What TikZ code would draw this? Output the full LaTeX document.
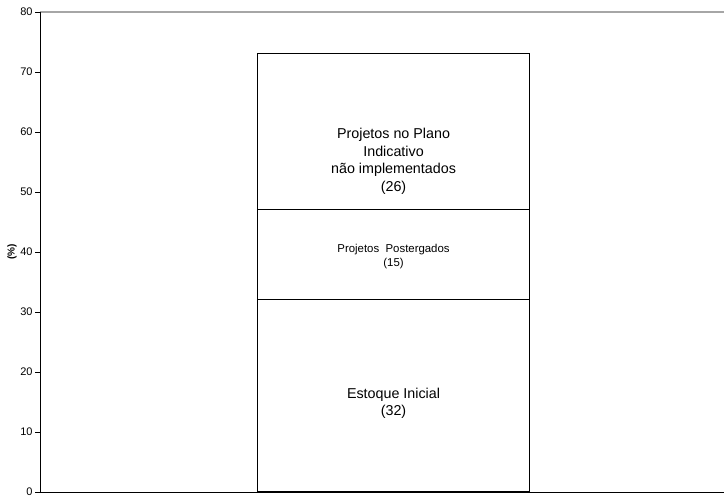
\documentclass[tikz,border=0pt]{standalone}
\usepackage{fontspec}
\setmainfont{Liberation Sans}
\usetikzlibrary{positioning}

\begin{document}
\begin{tikzpicture}[
    x=1pt, y=1pt, line width=0.9pt,
    ticklabel/.style={left=2pt, font=\fontsize{11}{12}\selectfont, inner sep=0pt},
    segment/.style={draw, line width=1.1pt, minimum width=272pt, anchor=south west, inner sep=0pt},
    seglabel/.style={align=center, font=\fontsize{14.3}{17.5}\selectfont},
    smalllabel/.style={align=center, font=\fontsize{11.4}{14}\selectfont}
]
    \useasboundingbox (-40,-5) rectangle (684,492);

    % axes
    \coordinate (origin) at (0,0);
    \coordinate (ytop) at (0,480);
    \coordinate (xend) at (684,0);
    \coordinate (topend) at (684,480);
    \draw[gray!70, line width=1.3pt] (ytop) -- (topend);
    \draw (origin) -- (xend);
    \draw (origin) -- (ytop);
    \foreach \v in {0,10,...,80} {
        \draw (0,\v*6) -- (-5,\v*6) node[ticklabel] {\v};
    }
    \node[rotate=90, font=\bfseries\fontsize{10}{12}\selectfont] (unit) at (-28,240) {(\%)};

    % stacked bar
    \node[segment, minimum height=192pt] (estoque) at (217,0) {};
    \node[segment, minimum height=90pt] (postergados) at (217,192) {};
    \node[segment, minimum height=156pt] (plano) at (217,282) {};

    \node[seglabel] (estoquetxt) at ([yshift=-8pt]estoque.center) {Estoque Inicial\\(32)};
    \node[smalllabel] (posttxt) at ([yshift=-2pt]postergados.center) {Projetos\ \ Postergados\\(15)};
    \node[seglabel] (planotxt) at ([yshift=-30pt]plano.center) {Projetos no Plano\\Indicativo\\não implementados\\(26)};
\end{tikzpicture}
\end{document}
